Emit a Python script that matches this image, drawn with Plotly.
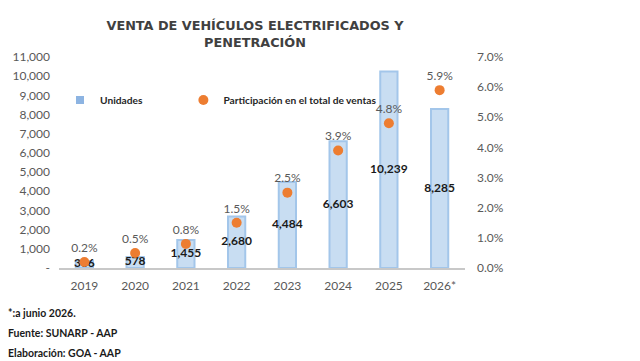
import plotly.graph_objects as go

years = ["2019", "2020", "2021", "2022", "2023", "2024", "2025", "2026*"]
units = [366, 578, 1455, 2680, 4484, 6603, 10239, 8285]
share = [0.002, 0.005, 0.008, 0.015, 0.025, 0.039, 0.048, 0.059]
left_ticks = [0, 1000, 2000, 3000, 4000, 5000, 6000, 7000, 8000, 9000, 10000, 11000]
left_ticktext = ["-"] + [f"{v:,}" for v in left_ticks[1:]]
right_ticks = [0, 0.01, 0.02, 0.03, 0.04, 0.05, 0.06, 0.07]

W, H = 640, 361
L, R, T, B = 57, 175, 57, 93
pw, ph = W - L - R, H - T - B

def px(xp):
    return (xp - L) / pw

def py(yp):
    return (H - B - yp) / ph

FONT = "Lato"
fig = go.Figure()

fig.add_trace(go.Bar(
    x=years, y=units, name="Unidades",
    marker=dict(color="#C8DDF2", line=dict(color="#A3C6EA", width=2)),
    width=0.34, yaxis="y", showlegend=False,
))
# legend-only square marker for the bar series
fig.add_trace(go.Scatter(
    x=[years[0]], y=[None], name="Unidades", mode="markers",
    marker=dict(color="#8DB4E2", size=8, symbol="square"),
    yaxis="y", legend="legend", hoverinfo="skip",
))
# unit labels centred on bars
fig.add_trace(go.Scatter(
    x=years, y=[u / 2 for u in units], mode="text",
    text=[f"{u:,}" for u in units],
    textfont=dict(family=FONT, size=12, color="#1a1a1a", weight="bold"),
    showlegend=False, hoverinfo="skip", yaxis="y",
))
fig.add_trace(go.Scatter(
    x=years, y=share, name="Participación en el total de ventas",
    mode="markers+text",
    marker=dict(color="#ED7D31", size=10),
    text=[f"{s*100:.1f}%" for s in share],
    textposition="top center",
    textfont=dict(family=FONT, size=12, color="#595959"),
    yaxis="y2", legend="legend2",
))

legfont = dict(family=FONT, size=10.2, color="#262626", weight="bold")
fig.update_layout(
    width=W, height=H,
    margin=dict(l=L, r=R, t=T, b=B, pad=0),
    paper_bgcolor="white", plot_bgcolor="white",
    font=dict(family=FONT, size=12, color="#595959"),
    title=dict(
        text="VENTA DE VEHÍCULOS ELECTRIFICADOS Y<br>PENETRACIÓN",
        font=dict(family="DejaVu Sans", size=12.8, color="#404040", weight="bold"),
        x=255 / W, xanchor="center", y=1 - 30 / H, yanchor="top",
    ),
    xaxis=dict(
        type="category", range=[-0.5, 7.5], showgrid=False,
        showline=True, linecolor="#C8C8C8", linewidth=2,
        ticks="", tickfont=dict(family=FONT, size=12, color="#595959"),
        ticklabelstandoff=6, fixedrange=True,
    ),
    yaxis=dict(
        range=[0, 11000], tickvals=left_ticks, ticktext=left_ticktext,
        showgrid=False, zeroline=False, showline=False, ticks="",
        tickfont=dict(family=FONT, size=12, color="#595959"),
        ticklabelstandoff=8,
    ),
    yaxis2=dict(
        range=[0, 0.07], tickvals=right_ticks, tickformat=".1%",
        overlaying="y", side="right", showgrid=False, zeroline=False,
        showline=False, ticks="",
        tickfont=dict(family=FONT, size=12, color="#595959"),
        ticklabelstandoff=11,
    ),
    legend=dict(
        orientation="h", x=px(58), y=py(100), xanchor="left", yanchor="middle",
        font=legfont, bgcolor="rgba(0,0,0,0)", itemwidth=30,
    ),
    legend2=dict(
        orientation="h", x=px(182), y=py(100), xanchor="left", yanchor="middle",
        font=legfont, bgcolor="rgba(0,0,0,0)", itemwidth=30,
    ),
    showlegend=True,
)

foot = ["*:a junio 2026.", "Fuente: SUNARP - AAP", "Elaboración: GOA - AAP"]
for i, t in enumerate(foot):
    fig.add_annotation(
        text=t, xref="paper", yref="paper", x=px(4), y=py(313 + 20 * i),
        xanchor="left", yanchor="middle", showarrow=False,
        font=dict(family=FONT, size=10.5, color="#1a1a1a", weight="bold"),
    )

fig.write_html("out.html")
